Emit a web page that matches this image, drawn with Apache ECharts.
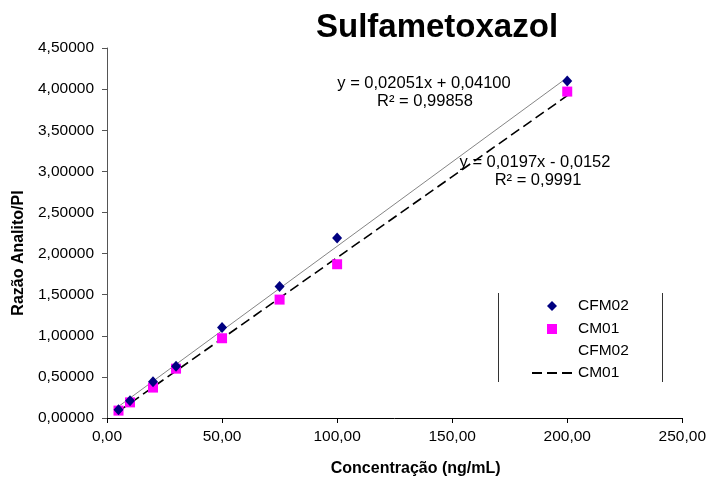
<!DOCTYPE html>
<html>
<head>
<meta charset="utf-8">
<script src="https://cdn.jsdelivr.net/npm/echarts@6/dist/echarts.min.js"></script>
<style>
  html, body { margin: 0; padding: 0; background: #fff; }
  #chart { width: 709px; height: 482px; }
</style>
</head>
<body>
<div id="chart"></div>
<script>
// concentrações (ng/mL)
const conc = [5, 10, 20, 30, 50, 75, 100, 200]
// razão analito/PI
const cfm02 = [0.10, 0.21, 0.44, 0.63, 1.10, 1.60, 2.19, 4.10]
const cm01 = [0.09, 0.19, 0.37, 0.60, 0.97, 1.44, 1.87, 3.97]
// linhas de tendência (extremos)
const trendCfm02 = [[5, 0.14], [200, 4.14]]
const trendCm01 = [[5, 0.08], [200, 3.92]]
const eqCfm02 = ['y = 0,02051x + 0,04100', 'R² = 0,99858']
const eqCm01 = ['y = 0,0197x - 0,0152', 'R² = 0,9991']

const font = '"Liberation Sans", Arial, sans-serif'
const toPoints = (ys) => conc.map((x, i) => [x, ys[i]])
// item de legenda sem ícone visível
const hidden = { color: 'rgba(0,0,0,0)', borderWidth: 0, opacity: 0 }

const chart = echarts.init(document.getElementById('chart'))

chart.setOption({
  animation: false,
  backgroundColor: '#fff',
  textStyle: { fontFamily: font },
  title: {
    text: 'Sulfametoxazol',
    left: 311,
    top: 6,
    textStyle: { fontSize: 33, fontWeight: 'bold', color: '#000', fontFamily: font }
  },
  grid: { left: 107, right: 25, top: 48, bottom: 64 },
  xAxis: {
    type: 'value',
    min: 0, max: 250, interval: 50,
    name: 'Concentração (ng/mL)',
    nameLocation: 'middle',
    nameGap: 43,
    nameTextStyle: { fontSize: 16, fontWeight: 'bold', color: '#000', padding: [0, 0, 0, 42] },
    splitLine: { show: false },
    axisLine: { lineStyle: { color: '#000', width: 1 } },
    axisTick: { length: 5, lineStyle: { color: '#000' } },
    axisLabel: {
      fontSize: 15.5, color: '#000', margin: 11,
      formatter: (v) => v.toFixed(2).replace('.', ',')
    }
  },
  yAxis: {
    type: 'value',
    min: 0, max: 4.5, interval: 0.5,
    name: 'Razão Analito/PI',
    nameLocation: 'middle',
    nameGap: 80,
    nameTextStyle: { fontSize: 16, fontWeight: 'bold', color: '#000', padding: [0, 40, 0, 0] },
    splitLine: { show: false },
    axisLine: { show: true, lineStyle: { color: '#555', width: 1 } },
    axisTick: { show: true, length: 5, lineStyle: { color: '#555' } },
    axisLabel: {
      fontSize: 15.5, color: '#000', margin: 13,
      formatter: (v) => v.toFixed(5).replace('.', ',')
    }
  },
  legend: [
    // pontos
    {
      left: 542,
      top: 293,
      orient: 'vertical',
      itemWidth: 10,
      itemHeight: 10,
      itemGap: 7,
      textStyle: { fontSize: 15.5, color: '#000', padding: [0, 0, 0, 16] },
      data: [
        { name: 'CFM02', icon: 'diamond' },
        { name: 'CM01', icon: 'rect' }
      ]
    },
    // linhas de tendência
    {
      left: 526,
      top: 338,
      orient: 'vertical',
      itemWidth: 41,
      itemHeight: 10,
      itemGap: 6,
      textStyle: { fontSize: 15.5, color: '#000' },
      data: [
        { name: 'CFM02 ', lineStyle: { opacity: 0, color: 'rgba(0,0,0,0)' }, itemStyle: hidden },
        { name: 'CM01 ', itemStyle: hidden }
      ]
    }
  ],
  series: [
    {
      name: 'CFM02 ',
      type: 'line',
      data: trendCfm02,
      showSymbol: false,
      symbol: 'none',
      lineStyle: { color: '#666', width: 0.8 },
      z: 2
    },
    {
      name: 'CM01 ',
      type: 'line',
      data: trendCm01,
      showSymbol: false,
      symbol: 'none',
      lineStyle: { color: '#000', width: 1.6, type: [10, 5] },
      z: 2
    },
    {
      name: 'CFM02',
      type: 'scatter',
      data: toPoints(cfm02),
      symbol: 'diamond',
      symbolSize: [10, 11],
      itemStyle: { color: '#000080', opacity: 1 },
      z: 4
    },
    {
      name: 'CM01',
      type: 'scatter',
      data: toPoints(cm01),
      symbol: 'rect',
      symbolSize: 10,
      itemStyle: { color: '#ff00ff', opacity: 1 },
      z: 3
    }
  ],
  graphic: [
    // equações das retas
    { type: 'text', x: 424, y: 83, style: { text: eqCfm02[0], fontSize: 16.5, fontFamily: font, fill: '#000', align: 'center', verticalAlign: 'middle' } },
    { type: 'text', x: 425, y: 101, style: { text: eqCfm02[1], fontSize: 16.5, fontFamily: font, fill: '#000', align: 'center', verticalAlign: 'middle' } },
    { type: 'text', x: 535, y: 162, style: { text: eqCm01[0], fontSize: 16.5, fontFamily: font, fill: '#000', align: 'center', verticalAlign: 'middle' } },
    { type: 'text', x: 538, y: 180, style: { text: eqCm01[1], fontSize: 16.5, fontFamily: font, fill: '#000', align: 'center', verticalAlign: 'middle' } },
    // bordas laterais da legenda
    { type: 'line', shape: { x1: 498.5, y1: 293, x2: 498.5, y2: 382 }, style: { stroke: '#333', lineWidth: 1 } },
    { type: 'line', shape: { x1: 662.5, y1: 293, x2: 662.5, y2: 382 }, style: { stroke: '#333', lineWidth: 1 } }
  ]
})
</script>
</body>
</html>
